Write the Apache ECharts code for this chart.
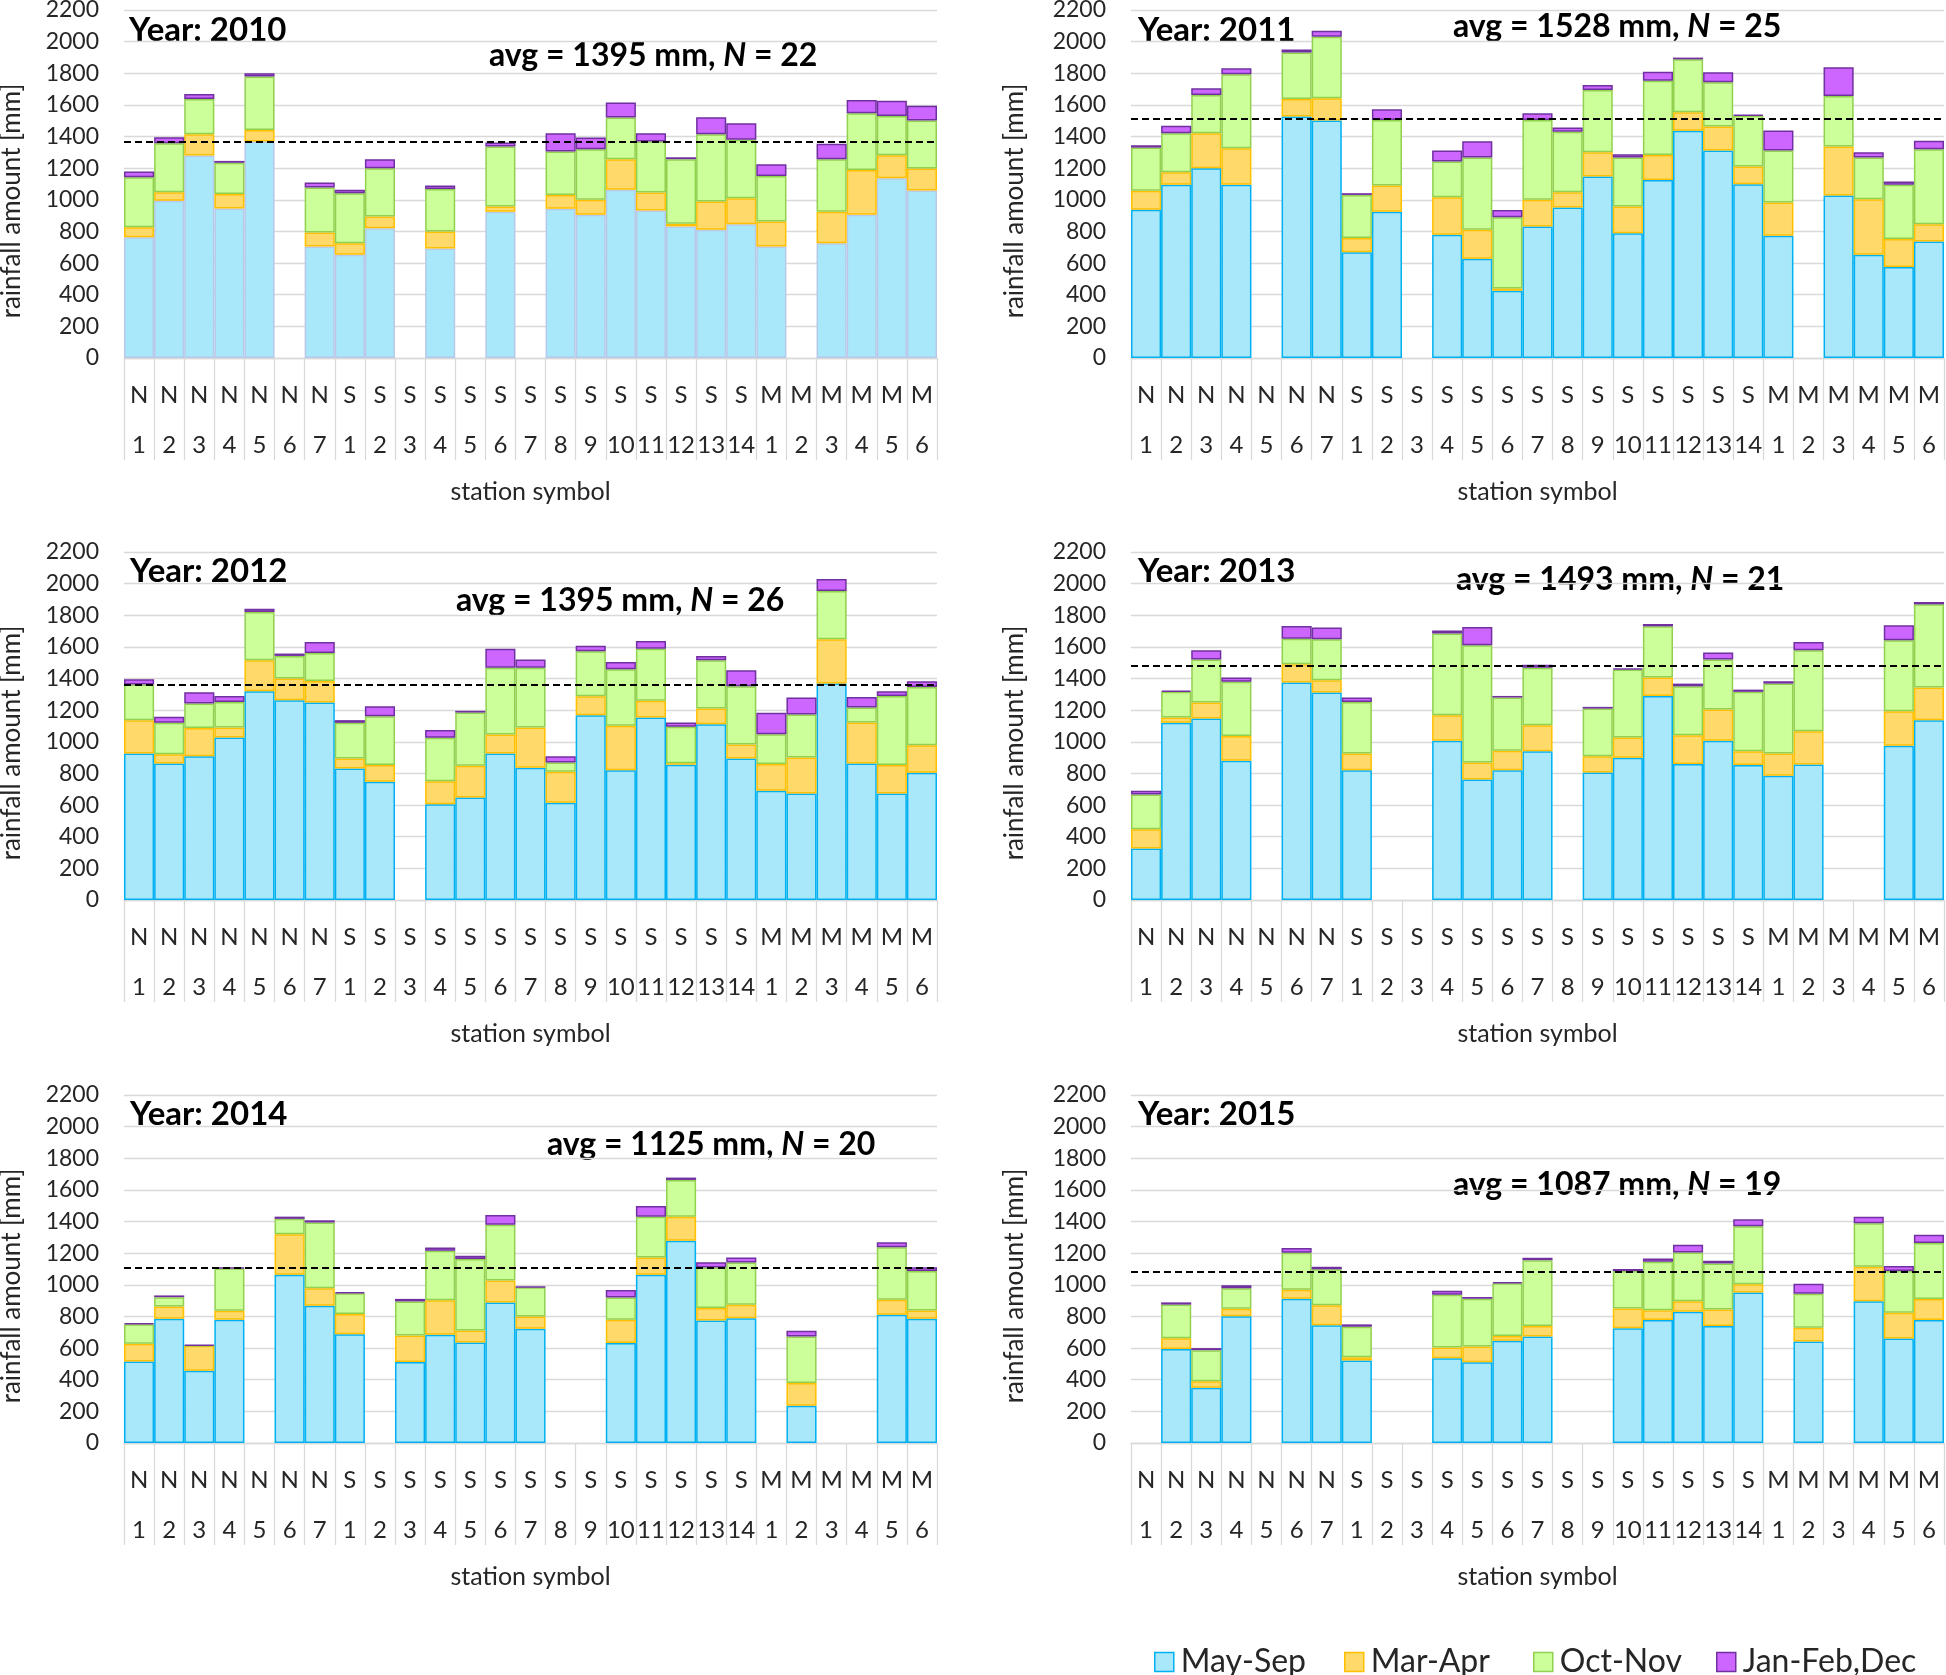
<!DOCTYPE html>
<html><head><meta charset="utf-8">
<script src="https://cdn.jsdelivr.net/npm/echarts@6/dist/echarts.min.js"></script>
<style>html,body{margin:0;padding:0;background:#fff}#c{width:1946px;height:1675px}</style>
</head><body><div id="c"></div>
<script>
// ---- categories ----
const stations = ['N1','N2','N3','N4','N5','N6','N7',
  'S1','S2','S3','S4','S5','S6','S7','S8','S9','S10','S11','S12','S13','S14',
  'M1','M2','M3','M4','M5','M6'];
const seriesNames = ['May-Sep','Mar-Apr','Oct-Nov','Jan-Feb,Dec'];
const years = [2010, 2011, 2012, 2013, 2014, 2015];
const avgValues = [1395, 1528, 1395, 1493, 1125, 1087];
const avgLinePos = [1368, 1515, 1360, 1478, 1105, 1080];
const stationCounts = [22, 25, 26, 21, 20, 19];
const yTicks = [0,200,400,600,800,1000,1200,1400,1600,1800,2000,2200];

// ---- 2010 ----
const maySep2010 = [764,994,1280,945,1368,null,705, 653,821,null,693,null,924,null,943,905,1063,933,832,810,846, 705,null,726,905,1137,1059];
const marApr2010 = [63,54,135,91,74,null,89, 73,74,null,107,null,34,null,88,95,194,113,16,179,164, 158,null,198,284,145,139];
const octNov2010 = [316,310,223,198,337,null,284, 316,305,null,269,null,379,null,274,320,263,322,409,426,369, 288,null,333,358,248,303];
const janFeb2010 = [36,38,31,12,21,null,31, 21,57,null,21,null,25,null,116,74,95,53,12,107,105, 74,null,97,84,97,93];
// ---- 2011 ----
const maySep2011 = [937,1095,1200,1095,null,1526,1501, 669,924,null,779,627,425,831,951,1147,789,1126,1436,1311,1099, 773,null,1027,653,575,737];
const marApr2011 = [120,80,221,231,null,112,141, 89,166,null,238,183,15,169,97,154,169,158,118,152,111, 210,null,310,351,177,109];
const octNov2011 = [273,246,242,468,null,294,389, 273,415,null,225,457,450,505,383,394,309,469,334,280,322, 328,null,320,263,343,474];
const janFeb2011 = [15,48,42,37,null,19,38, 11,67,null,69,103,45,42,26,31,21,57,11,63,5, 127,null,181,34,21,53];
// ---- 2012 ----
const maySep2012 = [926,863,909,1027,1320,1263,1248, 831,747,null,606,648,926,836,615,1168,821,1154,855,1111,895, 690,674,1368,863,674,804];
const marApr2012 = [211,59,179,63,196,137,137, 64,106,null,145,200,120,254,195,120,280,105,10,99,88, 169,227,280,259,179,175];
const octNov2012 = [225,198,154,162,305,143,177, 225,309,null,274,337,423,379,59,284,358,330,230,306,368, 189,272,305,95,437,368];
const janFeb2012 = [34,38,72,38,21,15,69, 17,63,null,49,11,120,51,40,36,46,49,27,27,101, 135,107,76,67,30,36];
// ---- 2013 ----
const maySep2013 = [326,1120,1147,880,null,1375,1311, 821,null,null,1006,762,821,941,null,806,899,1290,859,1006,853, 785,857,null,null,975,1137];
const marApr2013 = [122,34,101,156,null,115,78, 105,null,null,162,107,122,164,null,103,128,116,183,198,88, 141,210,null,null,219,206];
const octNov2013 = [219,162,272,343,null,162,259, 326,null,null,516,741,337,364,null,301,430,324,309,316,375, 442,512,null,null,448,526];
const janFeb2013 = [23,8,59,27,null,80,74, 28,null,null,19,116,10,19,null,11,6,15,17,44,14, 15,52,null,null,95,15];
// ---- 2014 ----
const maySep2014 = [516,785,457,779,null,1063,867, 688,null,512,684,636,888,722,null,null,632,1063,1278,775,789, null,236,null,null,810,785];
const marApr2014 = [111,78,158,57,null,257,112, 127,null,168,219,75,139,78,null,null,147,110,153,78,85, null,143,null,null,95,53];
const octNov2014 = [124,59,0,269,null,97,415, 132,null,215,312,453,352,185,null,null,141,258,232,256,267, null,295,null,null,333,250];
const janFeb2014 = [7,11,6,4,null,14,14, 7,null,16,21,19,63,2,null,null,48,68,15,34,31, null,35,null,null,31,23];
// ---- 2015 ----
const maySep2015 = [null,594,350,802,null,912,744, 521,null,null,535,510,646,673,null,null,725,777,829,740,952, null,642,null,896,660,777];
const marApr2015 = [null,68,40,46,null,57,127, 21,null,null,69,100,31,67,null,null,125,62,67,104,52, null,87,null,218,163,133];
const octNov2015 = [null,213,197,131,null,233,227, 193,null,null,333,302,333,416,null,null,237,307,308,291,367, null,215,null,275,264,354];
const janFeb2015 = [null,14,13,19,null,31,16, 15,null,null,25,11,7,15,null,null,13,20,50,17,43, null,62,null,42,32,52];

const yearData = [
  [maySep2010, marApr2010, octNov2010, janFeb2010],
  [maySep2011, marApr2011, octNov2011, janFeb2011],
  [maySep2012, marApr2012, octNov2012, janFeb2012],
  [maySep2013, marApr2013, octNov2013, janFeb2013],
  [maySep2014, marApr2014, octNov2014, janFeb2014],
  [maySep2015, marApr2015, octNov2015, janFeb2015]
];

// ---- styling / layout ----
const FONT = 'Lato';
const fills = ['#a9e8fa', '#ffd96a', '#ccff99', '#cc66ff'];
const borders = ['#00b0f0', '#ffc000', '#92d050', '#7030a0'];
const gridLefts = [124, 1131];
const gridTops = [10, 552, 1095];
const GW = 813, GH = 348;
const yearPos = [[129,30],[1138,30],[130,571],[1138,571],[130,1114],[1138,1114]];
const avgPos = [[489,56],[1453,27],[456,601],[1456,580],[547,1145],[1453,1185]];

const grids = [], xAxes = [], yAxes = [], series = [], graphics = [];
years.forEach((yr, i) => {
  const col = i % 2, row = Math.floor(i / 2);
  grids.push({left: gridLefts[col], top: gridTops[row], width: GW, height: GH,
    containLabel: false, outerBoundsMode: 'none'});
  xAxes.push({
    type: 'category', gridIndex: i, data: stations,
    name: 'station symbol', nameLocation: 'middle', nameGap: 121,
    nameTextStyle: {fontSize: 25, color: '#262626', fontFamily: FONT},
    axisLine: {lineStyle: {color: '#d9d9d9', width: 1.3}},
    axisTick: {show: true, interval: 0, length: 102, lineStyle: {color: '#d9d9d9', width: 1.3}},
    axisLabel: {interval: 0, fontSize: 24, lineHeight: 50, margin: 12, color: '#262626', fontFamily: FONT,
      formatter: v => v.charAt(0) + '\n' + v.slice(1)},
    splitLine: {show: false}
  });
  yAxes.push({
    type: 'value', gridIndex: i, min: yTicks[0], max: yTicks[yTicks.length - 1], interval: 200,
    name: 'rainfall amount [mm]', nameLocation: 'middle', nameGap: col === 0 ? 99 : 103,
    nameTextStyle: {fontSize: 26, color: '#262626', fontFamily: FONT, padding: [0, 34, 0, 0]},
    axisLine: {show: false}, axisTick: {show: false},
    axisLabel: {fontSize: 23, color: '#262626', margin: 25, fontFamily: FONT, formatter: v => String(v)},
    splitLine: {lineStyle: {color: '#d9d9d9', width: 1.3}}
  });
  yearData[i].forEach((arr, k) => {
    const s = {
      name: seriesNames[k], type: 'bar', xAxisIndex: i, yAxisIndex: i, stack: 'y' + yr,
      data: arr, barCategoryGap: '0%', barGap: '0%',
      itemStyle: {color: fills[k], borderColor: (k === 0 && i === 0) ? '#b8c8e8' : borders[k], borderWidth: 1.5},
      emphasis: {disabled: true}, animation: false
    };
    if (k === 3) {
      s.markLine = {
        silent: true, symbol: 'none', animation: false,
        label: {show: false},
        lineStyle: {color: '#000', type: [7, 4], width: 2},
        data: [{yAxis: avgLinePos[i]}]
      };
    }
    series.push(s);
  });
  graphics.push({
    type: 'text', x: yearPos[i][0], y: yearPos[i][1], silent: true,
    style: {text: 'Year: ' + yr, fontSize: 33, fontWeight: 'bold', fontFamily: FONT, fill: '#000', verticalAlign: 'middle'}
  });
  graphics.push({
    type: 'text', x: avgPos[i][0], y: avgPos[i][1], silent: true,
    style: {
      text: '{b|avg = ' + avgValues[i] + ' mm, }{i|N}{b| = ' + stationCounts[i] + '}',
      verticalAlign: 'middle',
      rich: {
        b: {fontSize: 32, fontWeight: 'bold', fontFamily: FONT, fill: '#000'},
        i: {fontSize: 32, fontWeight: 'bold', fontStyle: 'italic', fontFamily: FONT, fill: '#000'}
      }
    }
  });
});

const legendLefts = [1154, 1344, 1533, 1716];
const legends = seriesNames.map((nm, k) => ({
  left: legendLefts[k], top: 1646, padding: 0, itemWidth: 19, itemHeight: 19, itemGap: 8,
  selectedMode: false, icon: 'rect',
  textStyle: {fontSize: 32, color: '#262626', fontFamily: FONT, padding: [0, 0, 0, 2]},
  data: [{name: nm, itemStyle: {color: fills[k], borderColor: borders[k], borderWidth: 1.5}}]
}));

const chart = echarts.init(document.getElementById('c'), null, {renderer: 'canvas'});
chart.setOption({
  animation: false,
  backgroundColor: '#fff',
  textStyle: {fontFamily: FONT},
  grid: grids, xAxis: xAxes, yAxis: yAxes, series: series,
  legend: legends, graphic: graphics
});
</script>
</body></html>
